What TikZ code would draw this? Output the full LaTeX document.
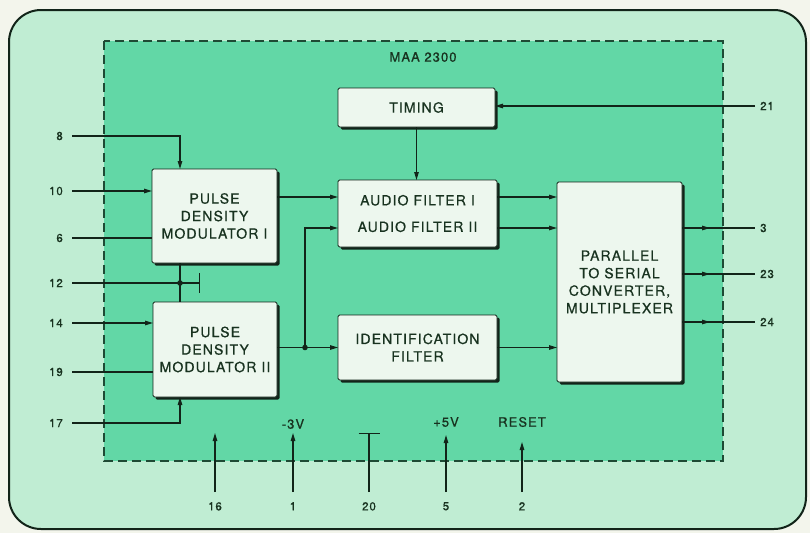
\documentclass[tikz,border=0pt]{standalone}
\usepackage{fontspec}
\newfontfamily\maafont[LetterSpace=8,FakeBold=0.7]{TeX Gyre Heros}
\usetikzlibrary{arrows.meta,positioning,shadows}
\definecolor{maaPaper}{HTML}{F3F5EC}
\definecolor{maaOuter}{HTML}{C0EDD3}
\definecolor{maaChip}{HTML}{62D7A6}
\definecolor{maaBox}{HTML}{EDF7EE}
\definecolor{maaInk}{HTML}{122419}
\definecolor{maaText}{HTML}{18321F}
\definecolor{maaDash}{HTML}{1E4A34}

\begin{document}
\begin{tikzpicture}[x=1pt,y=-1pt,
  blk/.style={draw=maaInk,fill=maaBox,rounded corners=1.5pt,line width=.9pt,
    inner sep=0pt,outer sep=0pt,align=center,text=maaText,
    font=\maafont\fontsize{14}{17.5}\selectfont,
    drop shadow={shadow xshift=2.5pt,shadow yshift=-2.5pt,fill=maaInk,opacity=1}},
  wire/.style={draw=maaInk,line width=1.1pt},
  arr/.style={wire,-{Triangle[length=8pt,width=4.5pt]}},
  tee/.style={wire,-{Bar[width=20pt,line width=1.1pt]}},
  pinlbl/.style={font=\maafont\fontsize{11.5}{13}\selectfont,text=maaText,inner sep=1pt},
  pintxt/.style={pinlbl,font=\maafont\fontsize{13}{15}\selectfont},
  jdot/.style={fill=maaInk}]
  \useasboundingbox (0,0) rectangle (810,533);
  \fill[maaPaper] (0,0) rectangle (810,533);
  % board and chip outline
  \draw[maaInk,line width=2pt,fill=maaOuter,rounded corners=32pt] (9,10) rectangle (806,529);
  \draw[maaDash,line width=1.2pt,dash pattern=on 9pt off 5pt,fill=maaChip] (104,41) rectangle (723,461);
  \node[pintxt] (chip) at (423,57) {MAA 2300};

  % blocks
  \node[blk,minimum width=157,minimum height=39] (timing) at (416.5,107.5) {TIMING};
  \node[blk,minimum width=159,minimum height=67] (audio) at (417.5,213.5)
    {AUDIO FILTER I\\[9pt]AUDIO FILTER II};
  \node[blk,minimum width=125,minimum height=94] (pdmA) at (214.5,216)
    {PULSE\\DENSITY\\MODULATOR I};
  \node[blk,minimum width=124,minimum height=95] (pdmB) at (215,349.5)
    {PULSE\\DENSITY\\MODULATOR II};
  \node[blk,minimum width=159,minimum height=65] (ident) at (417.5,347.5)
    {IDENTIFICATION\\FILTER};
  \node[blk,minimum width=125,minimum height=200] (par) at (619.5,282)
    {PARALLEL\\TO SERIAL\\CONVERTER,\\MULTIPLEXER};

  % pins
  \coordinate (p8) at (72,136);
  \coordinate (p10) at (72,191);
  \coordinate (p6) at (72,238);
  \coordinate (p12) at (72,283);
  \coordinate (p14) at (72,323);
  \coordinate (p19) at (72,372);
  \coordinate (p17) at (72,423);
  \coordinate (p21) at (755,106);
  \coordinate (p3) at (755,228);
  \coordinate (p23) at (755,274);
  \coordinate (p24) at (755,322);
  \coordinate (p16) at (215,492);
  \coordinate (p1) at (293,492);
  \coordinate (p20) at (369,492);
  \coordinate (p5) at (446,492);
  \coordinate (p2) at (522,492);
  \coordinate (t16) at (215,433);
  \coordinate (t1) at (293,433);
  \coordinate (t20) at (369,433);
  \coordinate (t5) at (446,435);
  \coordinate (t2) at (522,442);
  \coordinate (t12) at (200,283);
  \coordinate (jA) at (180,283);
  \coordinate (jB) at (305,347.5);
  \coordinate (r1) at (0,197);
  \coordinate (r2) at (0,228);

  \foreach \p in {8,10,6,12,14,19,17}
    \node[pinlbl,left=8pt of p\p] (l\p) {\p};
  \foreach \p in {21,3,23,24}
    \node[pinlbl,right=4pt of p\p] (l\p) {\p};
  \foreach \p in {16,1,20,5,2}
    \node[pinlbl,below=9pt of p\p] (l\p) {\p};
  \node[pintxt] (lneg) at (293,424) {-3V};
  \node[pintxt] (lpos) at (446,422) {+5V};
  \node[pintxt] (lrst) at (522,422) {RESET};

  % inputs on the left
  \draw[arr] (p8) -| (pdmA.north -| jA);
  \draw[arr] (p10) -- (pdmA.west |- p10);
  \draw[wire] (p6) -- (pdmA.west |- p6);
  \draw[tee] (p12) -- (t12);
  \draw[wire] (pdmA.south -| jA) -- (pdmB.north -| jA);
  \fill[jdot] (jA) circle (2.8);
  \draw[arr] (p14) -- (pdmB.west |- p14);
  \draw[wire] (p19) -- (pdmB.west |- p19);
  \draw[arr] (p17) -| (pdmB.south -| jA);

  % signal path
  \draw[arr] (p21) -- (timing.east |- p21);
  \draw[arr] (timing.south) -- (timing.south |- audio.north);
  \draw[arr] (pdmA.east |- r1) -- (audio.west |- r1);
  \draw[arr] (pdmB.east |- jB) -- (ident.west);
  \fill[jdot] (jB) circle (2.8);
  \draw[arr] (jB) |- (audio.west |- r2);
  \draw[arr] (audio.east |- r1) -- (par.west |- r1);
  \draw[arr] (audio.east |- r2) -- (par.west |- r2);
  \draw[arr] (ident.east) -- (par.west |- ident.east);

  % outputs on the right
  \foreach \p in {3,23,24}{
    \draw[wire] (par.east |- p\p) -- (p\p);
    \draw[arr] (par.east |- p\p) -- ++(28,0);
  }

  % supply and control pins
  \foreach \p in {16,1,5,2}
    \draw[arr] (p\p) -- (t\p);
  \draw[wire,-{Bar[width=21pt,line width=1.1pt]}] (p20) -- (t20);
\end{tikzpicture}
\end{document}
